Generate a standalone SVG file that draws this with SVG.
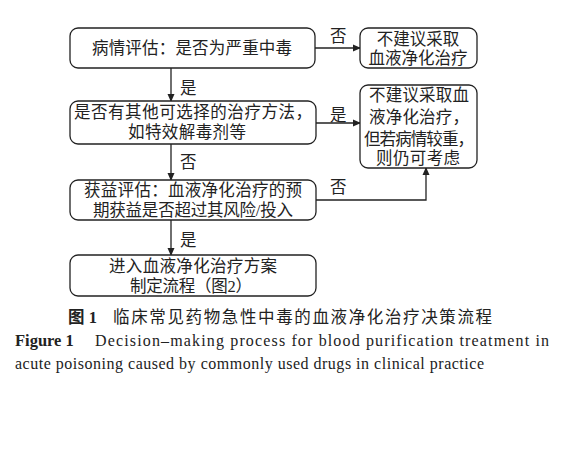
<svg xmlns="http://www.w3.org/2000/svg" width="563" height="453" viewBox="0 0 563 453">
<style>
.box{fill:#fff;stroke:#222;stroke-width:1.3}
.t{font-family:"Liberation Serif","Noto Sans CJK SC",serif;font-size:16.5px;fill:#222;text-anchor:middle}
.lbl{font-family:"Liberation Serif","Noto Sans CJK SC",serif;font-size:16.5px;fill:#222}
.ln{fill:none;stroke:#222;stroke-width:1.3}
.cap{font-family:"Liberation Serif","Noto Sans CJK SC",serif;fill:#222}
</style>
<defs>
<marker id="ah" markerWidth="8" markerHeight="8" refX="7" refY="4" orient="auto" markerUnits="userSpaceOnUse">
<path d="M0,0.5 L8,4 L0,7.5 Z" fill="#222"/>
</marker>
</defs>
<rect width="563" height="453" fill="#fff"/>
<g id="connectors">
<line class="ln" x1="171" y1="68" x2="171" y2="101" marker-end="url(#ah)"/>
<line class="ln" x1="171" y1="144" x2="171" y2="180" marker-end="url(#ah)"/>
<line class="ln" x1="171" y1="220" x2="171" y2="255" marker-end="url(#ah)"/>
<line class="ln" x1="315" y1="48" x2="360" y2="48" marker-end="url(#ah)"/>
<line class="ln" x1="316" y1="123" x2="360" y2="123" marker-end="url(#ah)"/>
<polyline class="ln" points="316,200 426,200 426,168" marker-end="url(#ah)"/>
<text class="lbl" x="180" y="94">是</text>
<text class="lbl" x="180" y="168">否</text>
<text class="lbl" x="180" y="246">是</text>
<text class="lbl" x="330" y="42">否</text>
<text class="lbl" x="330" y="121">是</text>
<text class="lbl" x="330" y="193">否</text>
</g>
<g id="n1">
<rect class="box" x="70" y="28" width="245" height="40" rx="8"/>
<text class="t" x="192" y="54" textLength="200" lengthAdjust="spacing">病情评估：是否为严重中毒</text>
</g>
<g id="n2">
<rect class="box" x="360" y="28" width="117" height="40" rx="8"/>
<text class="t" x="418" y="45">不建议采取</text>
<text class="t" x="418" y="64">血液净化治疗</text>
</g>
<g id="n3">
<rect class="box" x="70" y="101" width="246" height="43" rx="8"/>
<text class="t" x="193" y="118" textLength="238" lengthAdjust="spacing">是否有其他可选择的治疗方法，</text>
<text class="t" x="187" y="138" textLength="118" lengthAdjust="spacing">如特效解毒剂等</text>
</g>
<g id="n4">
<rect class="box" x="360" y="85" width="117" height="83" rx="8"/>
<text class="t" x="419" y="101" textLength="100" lengthAdjust="spacing">不建议采取血</text>
<text class="t" x="419" y="123" textLength="100" lengthAdjust="spacing">液净化治疗，</text>
<text class="t" x="419" y="145" textLength="110" lengthAdjust="spacing">但若病情较重，</text>
<text class="t" x="418" y="164" textLength="84" lengthAdjust="spacing">则仍可考虑</text>
</g>
<g id="n5">
<rect class="box" x="70" y="180" width="246" height="40" rx="8"/>
<text class="t" x="193" y="196" textLength="218" lengthAdjust="spacing">获益评估：血液净化治疗的预</text>
<text class="t" x="193" y="216" textLength="200" lengthAdjust="spacing">期获益是否超过其风险/投入</text>
</g>
<g id="n6">
<rect class="box" x="70" y="255" width="246" height="41" rx="8"/>
<text class="t" x="193" y="272" textLength="168" lengthAdjust="spacing">进入血液净化治疗方案</text>
<text class="t" x="191" y="292" textLength="122" lengthAdjust="spacing">制定流程（图2）</text>
</g>
<g id="caption">
<text class="cap" x="68" y="323" font-size="16.5" font-weight="bold">图 1</text>
<text class="cap" x="113" y="323" font-size="16.5" textLength="379" lengthAdjust="spacing">临床常见药物急性中毒的血液净化治疗决策流程</text>
<text class="cap" x="15" y="346" font-size="16.5" font-weight="bold">Figure 1</text>
<text class="cap" x="95" y="346" font-size="16" textLength="454" lengthAdjust="spacing">Decision–making process for blood purification treatment in</text>
<text class="cap" x="15" y="369" font-size="16" textLength="469" lengthAdjust="spacing">acute poisoning caused by commonly used drugs in clinical practice</text>
</g>
</svg>
